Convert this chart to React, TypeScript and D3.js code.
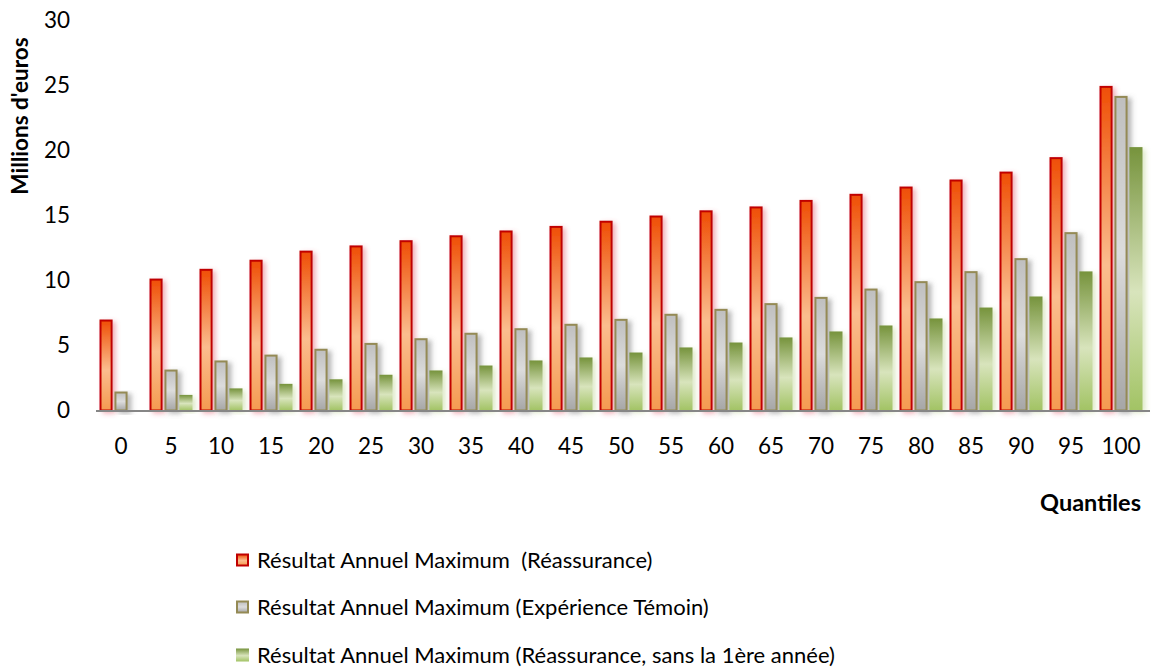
import React from "react";
import * as d3 from "d3";

const categories = ["0","5","10","15","20","25","30","35","40","45","50","55","60","65","70","75","80","85","90","95","100"];
const reassurance = [7.0,10.15,10.9,11.6,12.3,12.7,13.1,13.48,13.85,14.2,14.6,15.0,15.4,15.7,16.2,16.67,17.23,17.77,18.38,19.49,24.97];
const temoin = [1.46,3.15,3.85,4.3,4.75,5.2,5.56,5.98,6.33,6.67,7.05,7.44,7.82,8.26,8.74,9.38,9.95,10.72,11.72,13.72,24.2];
const sansPremiere = [0,1.2,1.7,2.05,2.4,2.75,3.08,3.46,3.85,4.08,4.46,4.85,5.23,5.62,6.08,6.54,7.08,7.92,8.77,10.7,20.26];
const yTicks = [0,5,10,15,20,25,30];
const seriesNames = [
  "Résultat Annuel Maximum  (Réassurance)",
  "Résultat Annuel Maximum (Expérience Témoin)",
  "Résultat Annuel Maximum (Réassurance, sans la 1ère année)",
];

const FONT = "Lato, 'Open Sans', sans-serif";

export default function App() {
  const W = 1152, H = 668;
  const x = d3.scaleBand<string>().domain(categories).range([96, 1146]).paddingInner(0.14).paddingOuter(0.07);
  const keys = ["r", "g", "v"];
  const xs = d3.scaleBand<string>().domain(keys).range([0, x.bandwidth()]).paddingInner(0.12);
  const y = d3.scaleLinear().domain([0, 30]).range([410.5, 20.5]);
  const series = [
    { key: "r", values: reassurance, fill: "url(#gRed)", stroke: "#c00000", sw: 2, filter: "url(#shRed)" },
    { key: "g", values: temoin, fill: "url(#gGray)", stroke: "#948a54", sw: 2, filter: "url(#shGray)" },
    { key: "v", values: sansPremiere, fill: "url(#gGreen)", stroke: "none", sw: 0, filter: "url(#shGreen)" },
  ];
  const legendY = [560, 607, 655];
  return (
    <svg width={W} height={H} style={{ position: "absolute", left: 0, top: 0, background: "#fff" }}>
      <defs>
        <linearGradient id="gRed" x1="0" y1="0" x2="0" y2="1">
          <stop offset="0" stopColor="#ef4e05" />
          <stop offset="0.55" stopColor="#fbbd8e" />
          <stop offset="1" stopColor="#f59a50" />
        </linearGradient>
        <linearGradient id="gGray" x1="0" y1="0" x2="0" y2="1">
          <stop offset="0" stopColor="#bfbfbf" />
          <stop offset="0.5" stopColor="#dcdcdc" />
          <stop offset="1" stopColor="#a6a6a6" />
        </linearGradient>
        <linearGradient id="gGreen" x1="0" y1="0" x2="0" y2="1">
          <stop offset="0" stopColor="#76933c" />
          <stop offset="0.55" stopColor="#d8e4bc" />
          <stop offset="1" stopColor="#a2c364" />
        </linearGradient>
        <filter id="shRed" x="-50%" y="-10%" width="250%" height="130%">
          <feDropShadow dx="3" dy="2" stdDeviation="2.5" floodColor="#e05060" floodOpacity="0.45" />
        </filter>
        <filter id="shGray" x="-50%" y="-10%" width="250%" height="130%">
          <feDropShadow dx="4" dy="2" stdDeviation="2.5" floodColor="#707070" floodOpacity="0.5" />
        </filter>
        <filter id="shGreen" x="-50%" y="-10%" width="250%" height="130%">
          <feDropShadow dx="3" dy="2" stdDeviation="2.5" floodColor="#a0c060" floodOpacity="0.35" />
        </filter>
      </defs>
      {series.map((s) => (
        <g key={s.key}>
          {categories.map((c, i) => {
            const v = s.values[i];
            if (v <= 0) return null;
            const x0 = (x(c) as number) + (xs(s.key) as number);
            const w = xs.bandwidth();
            const inset = s.sw / 2;
            return (
              <rect key={c} x={x0 + inset} y={y(v) + inset} width={w - s.sw} height={y(0) - y(v) - inset}
                fill={s.fill} stroke={s.stroke} strokeWidth={s.sw} filter={s.filter} />
            );
          })}
        </g>
      ))}
      <line x1={96} x2={1150} y1={411} y2={411} stroke="#868686" strokeWidth={2} />
      {yTicks.map((t) => (
        <text key={t} x={70} y={y(t)} dy="0.35em" textAnchor="end" fontFamily={FONT} fontSize={22.5} fill="#000">{t}</text>
      ))}
      {categories.map((c) => (
        <text key={c} x={(x(c) as number) + x.bandwidth() / 2} y={446} dy="0.35em" textAnchor="middle" fontFamily={FONT} fontSize={22.5} fill="#000">{c}</text>
      ))}
      <text transform="translate(20,116) rotate(-90)" textAnchor="middle" dy="0.35em" fontFamily={FONT} fontWeight="bold" fontSize={22.5} fill="#000">Millions d'euros</text>
      <text x={1141} y={503} dy="0.35em" textAnchor="end" fontFamily={FONT} fontWeight="bold" fontSize={23.5} fill="#000">Quantiles</text>
      {series.map((s, i) => (
        <g key={s.key}>
          <rect x={236 + s.sw / 2} y={legendY[i] - 6.5 + s.sw / 2} width={13 - s.sw} height={13 - s.sw} fill={s.fill} stroke={s.stroke} strokeWidth={s.sw} />
          <text x={257} y={legendY[i]} dy="0.35em" fontFamily={FONT} fontSize={22} fill="#000" style={{ whiteSpace: "pre" }}>{seriesNames[i]}</text>
        </g>
      ))}
    </svg>
  );
}
